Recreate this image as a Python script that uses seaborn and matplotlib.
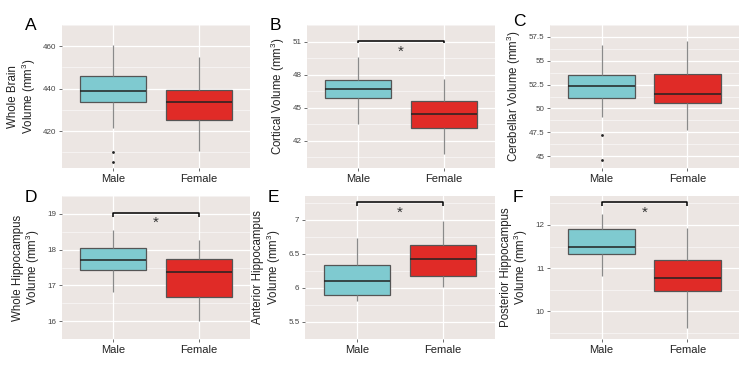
import numpy as np
import pandas as pd
import matplotlib
matplotlib.use('Agg')
import matplotlib.pyplot as plt
import seaborn as sns

# five-number summaries: whisker low, Q1, median, Q3, whisker high
groups = ['Male', 'Female']

a_male = [421.4, 433.9, 439.1, 446.0, 460.4]
a_female = [410.9, 425.3, 433.9, 439.6, 454.8]
a_male_out = [405.3, 410.3]

b_male = [43.5, 45.9, 46.7, 47.5, 49.6]
b_female = [40.8, 43.1, 44.4, 45.6, 47.6]

c_male = [49.1, 51.1, 52.3, 53.5, 56.6]
c_female = [47.7, 50.6, 51.5, 53.6, 57.1]
c_male_out = [44.55, 47.2]

d_male = [16.81, 17.43, 17.72, 18.05, 18.55]
d_female = [16.0, 16.67, 17.38, 17.75, 18.28]

e_male = [5.81, 5.89, 6.10, 6.34, 6.73]
e_female = [6.02, 6.18, 6.42, 6.63, 6.98]

f_male = [10.81, 11.32, 11.49, 11.91, 12.25]
f_female = [9.61, 10.46, 10.77, 11.18, 11.94]

panel_letters = ['A', 'B', 'C', 'D', 'E', 'F']
y_titles = ['Whole Brain\nVolume (mm$^3$)', 'Cortical Volume (mm$^3$)', 'Cerebellar Volume (mm$^3$)',
            'Whole Hippocampus\nVolume (mm$^3$)', 'Anterior Hippocampus\nVolume (mm$^3$)',
            'Posterior Hippocampus\nVolume (mm$^3$)']
y_ticks = [[420, 440, 460], [42, 45, 48, 51], [45, 47.5, 50, 52.5, 55, 57.5],
           [16, 17, 18, 19], [5.5, 6, 6.5, 7], [10, 11, 12]]
y_tick_labels = [['420', '440', '460'], ['42', '45', '48', '51'],
                 ['45', '47.5', '50', '52.5', '55', '57.5'],
                 ['16', '17', '18', '19'], ['5.5', '6', '6.5', '7'], ['10', '11', '12']]
y_limits = [(402.7, 464.0), (39.5, 51.7), (43.97, 57.72), (15.87, 19.17), (5.43, 7.35), (9.36, 12.67)]
# significance brackets (None = no bracket): bracket top, tick bottom
brackets = [None, (51.05, 50.83), None, (19.02, 18.92), (7.26, 7.21), (12.52, 12.43)]

male_vals = [a_male, b_male, c_male, d_male, e_male, f_male]
female_vals = [a_female, b_female, c_female, d_female, e_female, f_female]
male_outliers = [a_male_out, [], c_male_out, [], [], []]

colors = {'Male': '#7fcad0', 'Female': '#e02b27'}
panel_bg = '#ece6e3'

sns.set_theme(style='darkgrid')
plt.rcParams['font.family'] = ['Liberation Sans', 'DejaVu Sans']
plt.rcParams['mathtext.default'] = 'regular'

fig = plt.figure(figsize=(7.54, 3.78), dpi=100)

# axes boxes in pixels: left, right, top, bottom
boxes = [(62, 250, 25, 168), (307, 495, 25, 168), (550, 739, 25, 168),
         (62, 250, 196, 339), (305, 495, 196, 339), (550, 739, 196, 339)]
W, H = 754, 378

for i in range(6):
    l, r, t, b = boxes[i]
    ax = fig.add_axes([l / W, 1 - b / H, (r - l) / W, (b - t) / H])
    ax.set_facecolor(panel_bg)

    df = pd.DataFrame({
        'sex': ['Male'] * 5 + ['Female'] * 5,
        'value': male_vals[i] + female_vals[i],
    })
    sns.boxplot(data=df, x='sex', y='value', hue='sex', order=groups, hue_order=groups,
                palette=colors, saturation=1, whis=(0, 100), width=0.77, showfliers=False,
                linewidth=0.9, linecolor='#555555', legend=False, ax=ax,
                medianprops={'color': '#222222', 'linewidth': 1.1},
                whiskerprops={'color': '#8a8a8a', 'linewidth': 0.9},
                capprops={'linewidth': 0})
    if male_outliers[i]:
        out_df = pd.DataFrame({'sex': ['Male'] * len(male_outliers[i]), 'value': male_outliers[i]})
        sns.stripplot(data=out_df, x='sex', y='value', order=groups, jitter=False,
                      color='#222222', size=2.0, ax=ax)

    ax.set_xlim(-0.6, 1.6)
    ax.set_ylim(*y_limits[i])
    ax.set_yticks(y_ticks[i])
    ax.set_yticklabels(y_tick_labels[i])
    step = (y_ticks[i][1] - y_ticks[i][0]) / 2
    ax.set_yticks(np.arange(y_ticks[i][0] - step, y_ticks[i][-1] + 2 * step, 2 * step), minor=True)

    ax.grid(True, which='major', color='white', linewidth=0.9)
    ax.grid(True, which='minor', axis='y', color='white', linewidth=0.45, alpha=0.8)
    ax.set_axisbelow(True)
    for s in ax.spines.values():
        s.set_visible(False)

    ax.tick_params(axis='y', which='major', length=2.5, width=0.6, color='#555555',
                   labelsize=5.8, labelcolor='#444444', pad=1.5, left=True)
    ax.tick_params(axis='y', which='minor', length=0, left=False)
    ax.tick_params(axis='x', length=2.5, width=0.6, color='#555555',
                   labelsize=8, labelcolor='#222222', pad=2, bottom=True)
    ax.set_xlabel('')
    ax.set_ylabel(y_titles[i], fontsize=8.3, color='#222222', labelpad=4, linespacing=1.0)

    if brackets[i] is not None:
        top, low = brackets[i]
        ax.plot([0, 0, 1, 1], [low, top, top, low], color='black', linewidth=1.1,
                solid_capstyle='butt', clip_on=False)
        span = y_limits[i][1] - y_limits[i][0]
        ax.text(0.5, top - span * 0.025, '*', ha='center', va='top', fontsize=11, color='#333333')

    # panel letter (C sits a little higher so it clears its axis title)
    dy = -4 if i == 2 else 1
    fig.text((l - 37) / W, 1 - (t + dy) / H, panel_letters[i], fontsize=12.5,
             ha='left', va='center', color='black')

fig.savefig('out.png', dpi=100, facecolor='white')
